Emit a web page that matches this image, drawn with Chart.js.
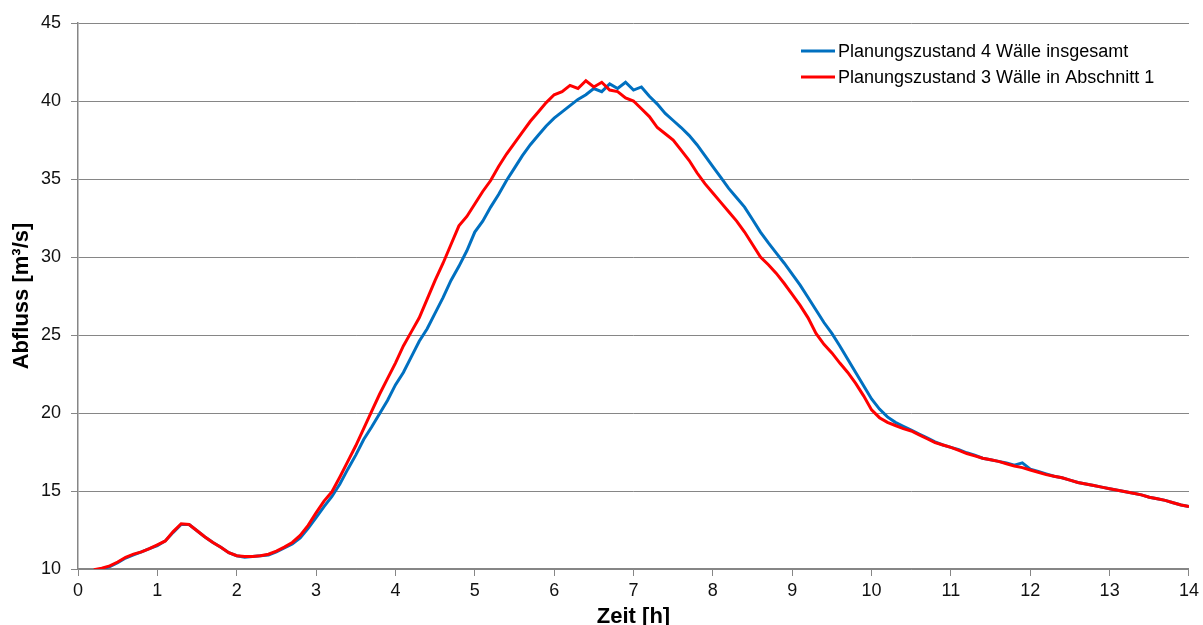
<!DOCTYPE html>
<html>
<head>
<meta charset="utf-8">
<script src="https://cdn.jsdelivr.net/npm/chart.js@4.4.1/dist/chart.umd.min.js"></script>
<style>
  html, body { margin: 0; padding: 0; background: #fff; }
  #wrap { width: 1203px; height: 625px; }
</style>
</head>
<body>
<div id="wrap"><canvas id="abflussChart" width="1203" height="625"></canvas></div>
<script>
// Zeit [h]
const zeit = [
  0.2, 0.3, 0.4, 0.5, 0.6, 0.7, 0.8, 0.9, 1.0, 1.1, 1.2, 1.3, 1.4, 1.5, 1.6, 1.7, 1.8, 1.9,
  2.0, 2.1, 2.2, 2.3, 2.4, 2.5, 2.6, 2.7, 2.8, 2.9, 3.0, 3.1, 3.2, 3.3, 3.4, 3.5, 3.6, 3.7, 3.8, 3.9,
  4.0, 4.1, 4.2, 4.3, 4.4, 4.5, 4.6, 4.7, 4.8, 4.9, 5.0, 5.1, 5.2, 5.3, 5.4, 5.5, 5.6, 5.7, 5.8, 5.9,
  6.0, 6.1, 6.2, 6.3, 6.4, 6.5, 6.6, 6.7, 6.8, 6.9, 7.0, 7.1, 7.2, 7.3, 7.4, 7.5, 7.6, 7.7, 7.8, 7.9,
  8.0, 8.1, 8.2, 8.3, 8.4, 8.5, 8.6, 8.7, 8.8, 8.9, 9.0, 9.1, 9.2, 9.3, 9.4, 9.5, 9.6, 9.7, 9.8, 9.9,
  10.0, 10.1, 10.2, 10.3, 10.4, 10.5, 10.6, 10.7, 10.8, 10.9, 11.0, 11.1, 11.2, 11.3, 11.4, 11.5, 11.6, 11.7, 11.8, 11.9,
  12.0, 12.1, 12.2, 12.3, 12.4, 12.5, 12.6, 12.7, 12.8, 12.9, 13.0, 13.1, 13.2, 13.3, 13.4, 13.5, 13.6, 13.7, 13.8, 13.9,
  14.0
];

// Planungszustand 4 Wälle insgesamt [m³/s]
const vierWaelle = [
  9.9, 10.0, 10.15, 10.4, 10.7, 10.9, 11.1, 11.3, 11.5, 11.8, 12.35, 12.85, 12.85, 12.45, 12.05, 11.7, 11.4, 11.05,
  10.85, 10.75, 10.8, 10.85, 10.9, 11.1, 11.35, 11.6, 12.0, 12.6, 13.3, 14.0, 14.65, 15.45, 16.4, 17.3, 18.3, 19.1, 19.95, 20.8,
  21.8, 22.6, 23.6, 24.6, 25.4, 26.4, 27.4, 28.5, 29.4, 30.4, 31.6, 32.3, 33.2, 34.0, 34.9, 35.7, 36.5, 37.2, 37.8, 38.4,
  38.9, 39.3, 39.7, 40.1, 40.4, 40.8, 40.6, 41.1, 40.8, 41.2, 40.7, 40.9, 40.3, 39.8, 39.2, 38.75, 38.3, 37.8, 37.2, 36.5,
  35.8, 35.1, 34.4, 33.8, 33.2, 32.4, 31.6, 30.9, 30.25, 29.6, 28.9, 28.2, 27.4, 26.6, 25.8, 25.1, 24.3, 23.45, 22.6, 21.75,
  20.9, 20.25, 19.75, 19.4, 19.15, 18.9, 18.65, 18.4, 18.15, 17.95, 17.8, 17.65, 17.45, 17.3, 17.1, 17.0, 16.9, 16.8, 16.65, 16.8,
  16.4, 16.25, 16.1, 15.95, 15.85, 15.7, 15.55, 15.45, 15.35, 15.25, 15.15, 15.05, 14.95, 14.85, 14.75, 14.6, 14.5, 14.4, 14.25, 14.1,
  14.0
];

// Planungszustand 3 Wälle in Abschnitt 1 [m³/s]
const dreiWaelle = [
  9.95, 10.05, 10.2, 10.45, 10.75, 10.95, 11.1, 11.3, 11.55, 11.8, 12.4, 12.9, 12.85, 12.45, 12.05, 11.7, 11.4, 11.05,
  10.85, 10.8, 10.8, 10.85, 10.95, 11.15, 11.4, 11.7, 12.15, 12.8, 13.6, 14.35, 14.95, 15.9, 16.9, 17.9, 19.0, 20.1, 21.2, 22.2,
  23.2, 24.3, 25.2, 26.1, 27.3, 28.5, 29.6, 30.8, 32.0, 32.6, 33.4, 34.2, 34.9, 35.8, 36.6, 37.3, 38.0, 38.7, 39.3, 39.9,
  40.4, 40.6, 41.0, 40.8, 41.3, 40.9, 41.2, 40.7, 40.6, 40.2, 40.0, 39.5, 39.0, 38.3, 37.9, 37.5, 36.85, 36.2, 35.4, 34.7,
  34.1, 33.5, 32.9, 32.3, 31.6, 30.8, 30.0, 29.5, 28.95, 28.3, 27.6, 26.9, 26.1, 25.1, 24.4, 23.85, 23.2, 22.6, 21.9, 21.1,
  20.2, 19.7, 19.4, 19.2, 19.0, 18.85, 18.6, 18.35, 18.1, 17.95, 17.8, 17.6, 17.4, 17.25, 17.1, 17.0, 16.9, 16.75, 16.6, 16.5,
  16.35, 16.2, 16.05, 15.95, 15.85, 15.7, 15.55, 15.45, 15.35, 15.25, 15.15, 15.05, 14.95, 14.85, 14.75, 14.6, 14.5, 14.4, 14.25, 14.1,
  14.0
];

const serienNamen = ["Planungszustand 4 Wälle insgesamt", "Planungszustand 3 Wälle in Abschnitt 1"];
const serienFarben = ["#0070C0", "#FF0000"];

const axisGray = "#868686";
const fontFamily = "'Liberation Sans', Arial, sans-serif";

function toPoints(values) {
  return zeit.map((t, i) => ({ x: t, y: values[i] }));
}

// legend drawn inside the plot, top right, one entry per row
const innerLegend = {
  id: "innerLegend",
  afterDraw(chart) {
    const ctx = chart.ctx;
    ctx.save();
    ctx.font = "18px " + fontFamily;
    ctx.textBaseline = "middle";
    ctx.fillStyle = "#000";
    chart.data.datasets.forEach((ds, i) => {
      const y = 51 + i * 26;
      ctx.strokeStyle = ds.borderColor;
      ctx.lineWidth = 3;
      ctx.beginPath();
      ctx.moveTo(801, y);
      ctx.lineTo(835, y);
      ctx.stroke();
      ctx.fillText(ds.label, 838, y + 1);
    });
    ctx.restore();
  }
};

new Chart(document.getElementById("abflussChart"), {
  type: "line",
  data: {
    datasets: [
      {
        label: serienNamen[0],
        data: toPoints(vierWaelle),
        borderColor: serienFarben[0],
        backgroundColor: serienFarben[0],
        order: 2
      },
      {
        label: serienNamen[1],
        data: toPoints(dreiWaelle),
        borderColor: serienFarben[1],
        backgroundColor: serienFarben[1],
        order: 1
      }
    ]
  },
  options: {
    responsive: false,
    animation: false,
    layout: { padding: { top: 23, right: 13, left: 0, bottom: 0 } },
    elements: {
      point: { radius: 0 },
      line: { borderWidth: 3, tension: 0 }
    },
    plugins: {
      legend: { display: false },
      tooltip: { enabled: false }
    },
    scales: {
      x: {
        type: "linear",
        min: 0,
        max: 14,
        afterFit(scale) { scale.height = 56; },
        ticks: {
          stepSize: 1,
          padding: 4,
          color: "#111",
          font: { family: fontFamily, size: 18 }
        },
        grid: { drawOnChartArea: false, drawTicks: true, tickLength: 7, color: axisGray },
        border: { display: true, color: axisGray, width: 1.5 },
        title: {
          display: true,
          text: "Zeit [h]",
          color: "#000",
          font: { family: fontFamily, size: 22, weight: "bold" },
          padding: { top: 0, bottom: -5 }
        }
      },
      y: {
        min: 10,
        max: 45,
        afterFit(scale) { scale.width = 78; },
        ticks: {
          stepSize: 5,
          padding: 10,
          color: "#111",
          font: { family: fontFamily, size: 18 }
        },
        grid: { color: axisGray, lineWidth: 1, drawTicks: true, tickLength: 7 },
        border: { display: true, color: axisGray, width: 1.5 },
        title: {
          display: true,
          text: "Abfluss [m³/s]",
          color: "#000",
          font: { family: fontFamily, size: 22, weight: "bold" },
          padding: { top: 9, bottom: 0 }
        }
      }
    }
  },
  plugins: [innerLegend]
});
</script>
</body>
</html>
